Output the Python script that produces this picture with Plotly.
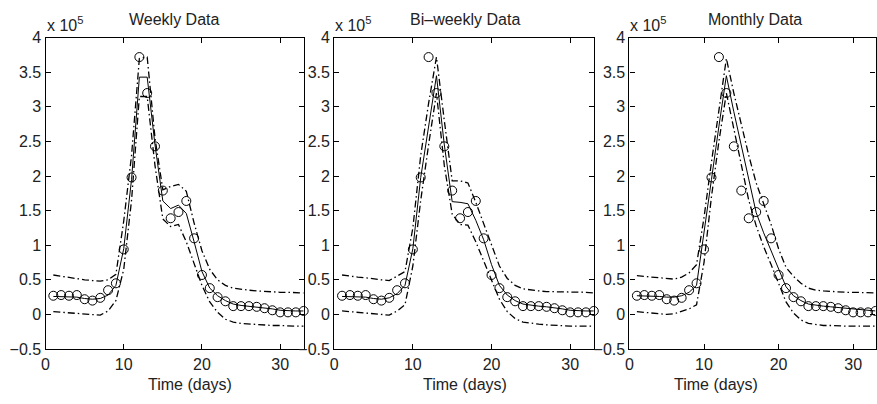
import plotly.graph_objects as go

# ---- data (values in units of 10^5) ----
days = list(range(1, 34))

observed = [0.27, 0.28, 0.27, 0.28, 0.22, 0.20, 0.24, 0.35, 0.45, 0.94, 1.98, 3.72, 3.20, 2.43, 1.79,
            1.39, 1.48, 1.64, 1.10, 0.57, 0.38, 0.25, 0.19, 0.12, 0.12, 0.12, 0.11, 0.09, 0.06, 0.03,
            0.03, 0.03, 0.05]

weekly_mean = [0.26, 0.26, 0.26, 0.25, 0.23, 0.22, 0.23, 0.28, 0.42, 0.95, 1.95, 3.43, 3.43, 2.45, 1.64,
               1.53, 1.58, 1.46, 1.05, 0.62, 0.38, 0.27, 0.20, 0.15, 0.13, 0.12, 0.11, 0.10, 0.08, 0.06,
               0.05, 0.05, 0.05]
weekly_upper = [0.57, 0.55, 0.53, 0.52, 0.50, 0.49, 0.48, 0.50, 0.58, 1.35, 2.30, 3.70, 3.72, 2.55, 1.80,
                1.85, 1.88, 1.78, 1.32, 0.92, 0.65, 0.50, 0.42, 0.38, 0.36, 0.35, 0.34, 0.33, 0.33, 0.32,
                0.32, 0.31, 0.31]
weekly_lower = [0.04, 0.03, 0.02, 0.01, 0.00, -0.01, -0.01, 0.05, 0.20, 0.65, 1.65, 3.15, 3.15, 2.15, 1.38,
                1.27, 1.30, 1.05, 0.74, 0.42, 0.18, 0.03, -0.07, -0.11, -0.13, -0.14, -0.15, -0.15, -0.16,
                -0.16, -0.17, -0.17, -0.17]

biweekly_mean = [0.26, 0.26, 0.26, 0.25, 0.23, 0.22, 0.24, 0.30, 0.42, 0.95, 1.98, 2.72, 3.45, 2.45, 1.63,
                 1.62, 1.60, 1.36, 1.08, 0.72, 0.42, 0.28, 0.20, 0.15, 0.13, 0.12, 0.11, 0.10, 0.08, 0.06,
                 0.05, 0.05, 0.05]
biweekly_upper = [0.57, 0.55, 0.54, 0.53, 0.51, 0.50, 0.49, 0.55, 0.62, 1.25, 2.30, 3.05, 3.72, 2.80, 1.93,
                  1.93, 1.90, 1.62, 1.32, 1.00, 0.70, 0.52, 0.42, 0.37, 0.35, 0.34, 0.33, 0.33, 0.32, 0.32,
                  0.32, 0.32, 0.31]
biweekly_lower = [0.05, 0.04, 0.03, 0.02, 0.01, 0.00, -0.01, 0.05, 0.14, 0.70, 1.65, 2.45, 3.20, 2.15, 1.45,
                  1.30, 1.29, 1.05, 0.78, 0.50, 0.22, 0.04, -0.06, -0.11, -0.13, -0.14, -0.15, -0.16, -0.16,
                  -0.17, -0.17, -0.17, -0.17]

monthly_mean = [0.27, 0.27, 0.26, 0.26, 0.25, 0.25, 0.27, 0.32, 0.42, 1.15, 1.95, 2.72, 3.45, 2.93, 2.43,
                1.94, 1.47, 1.18, 0.92, 0.65, 0.40, 0.27, 0.20, 0.15, 0.13, 0.12, 0.11, 0.10, 0.08, 0.07,
                0.06, 0.05, 0.05]
monthly_upper = [0.56, 0.55, 0.53, 0.52, 0.51, 0.51, 0.54, 0.60, 0.72, 1.40, 2.20, 2.95, 3.70, 3.20, 2.75,
                 2.30, 1.90, 1.60, 1.30, 0.95, 0.68, 0.55, 0.45, 0.38, 0.35, 0.34, 0.33, 0.33, 0.32, 0.32,
                 0.32, 0.32, 0.31]
monthly_lower = [0.04, 0.03, 0.02, 0.01, 0.00, 0.01, 0.04, 0.08, 0.14, 0.75, 1.70, 2.50, 3.20, 2.70, 2.15,
                 1.65, 1.28, 0.98, 0.72, 0.45, 0.18, 0.02, -0.08, -0.13, -0.15, -0.16, -0.16, -0.17, -0.17,
                 -0.17, -0.17, -0.17, -0.17]

titles = ["Weekly Data", "Bi\u2013weekly Data", "Monthly Data"]
x_ticks = [0, 10, 20, 30]
y_ticks = [-0.5, 0, 0.5, 1, 1.5, 2, 2.5, 3, 3.5, 4]
y_ticklabels = ["\u22120.5", "0", "0.5", "1", "1.5", "2", "2.5", "3", "3.5", "4"]

panels = [
    (weekly_mean, weekly_upper, weekly_lower),
    (biweekly_mean, biweekly_upper, biweekly_lower),
    (monthly_mean, monthly_upper, monthly_lower),
]

# ---- layout geometry (pixels) ----
W, H = 877, 404
x_domains_px = [(41.7, 301.0), (331.7, 592.5), (628.3, 875.5)]
y_top_px, y_bot_px = 31, 356
xlabel_centers_px = [186.7, 463, 715]
title_centers_px = [171, 463, 754]

FONT = "Liberation Sans, Arial, Helvetica, sans-serif"
DASHDOT = "7px,3px,1.5px,3px"

fig = go.Figure()
layout = dict(
    width=W, height=H, autosize=False,
    margin=dict(l=0, r=0, t=0, b=0),
    paper_bgcolor="white", plot_bgcolor="white",
    showlegend=False,
    font=dict(family=FONT, size=16, color="#222"),
)
annotations = []

for i, (mean, upper, lower) in enumerate(panels):
    k = "" if i == 0 else str(i + 1)
    xa, ya = "x" + k, "y" + k
    for series, dash, w in ((upper, DASHDOT, 1.3), (lower, DASHDOT, 1.3), (mean, "solid", 1.0)):
        fig.add_trace(go.Scatter(x=days, y=series, mode="lines", xaxis=xa, yaxis=ya,
                                 line=dict(color="black", width=w, dash=dash)))
    fig.add_trace(go.Scatter(x=days, y=observed, mode="markers", xaxis=xa, yaxis=ya,
                             cliponaxis=False,
                             marker=dict(symbol="circle-open", size=9, color="black",
                                         line=dict(color="black", width=1))))
    x0, x1 = x_domains_px[i]
    layout["xaxis" + k] = dict(
        domain=[x0 / W, x1 / W], range=[0, 33], anchor=ya,
        tickvals=x_ticks, ticks="inside", ticklen=5, tickcolor="black",
        showline=True, linecolor="black", linewidth=1.2, mirror="ticks",
        showgrid=False, zeroline=False, tickfont=dict(size=16, color="#222"),
        ticklabelstandoff=1,
    )
    layout["yaxis" + k] = dict(
        domain=[1 - y_bot_px / H, 1 - y_top_px / H], range=[-0.5, 4], anchor=xa,
        tickvals=y_ticks, ticktext=y_ticklabels, ticks="inside", ticklen=5, tickcolor="black",
        showline=True, linecolor="black", linewidth=1.2, mirror="ticks",
        showgrid=False, zeroline=False, tickfont=dict(size=16, color="#222"),
    )
    annotations.append(dict(text=titles[i], xref="paper", yref="paper",
                            x=title_centers_px[i] / W, y=1 - 12.5 / H,
                            xanchor="center", yanchor="middle", showarrow=False,
                            font=dict(size=16, color="#222")))
    annotations.append(dict(text="Time (days)", xref="paper", yref="paper",
                            x=xlabel_centers_px[i] / W, y=1 - 393 / H,
                            xanchor="center", yanchor="middle", showarrow=False,
                            font=dict(size=16, color="#222")))
    annotations.append(dict(text="x 10<sup>5</sup>", xref="paper", yref="paper",
                            x=x0 / W, y=1 - 28 / H, xanchor="left", yanchor="bottom",
                            showarrow=False, borderpad=0,
                            font=dict(size=16, color="#222")))

layout["annotations"] = annotations
fig.update_layout(**layout)
fig.write_html("out.html")
